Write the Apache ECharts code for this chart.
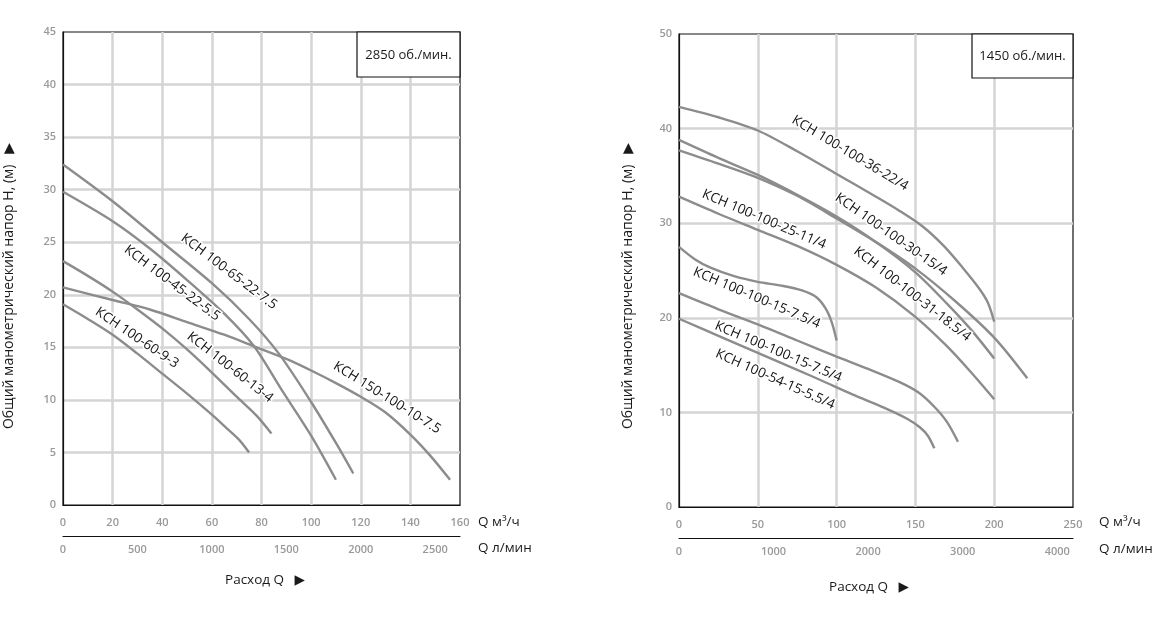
<!DOCTYPE html>
<html>
<head>
<meta charset="utf-8">
<title>КСН</title>
<script src="https://cdn.jsdelivr.net/npm/echarts@6/dist/echarts.min.js"></script>
<style>
html,body{margin:0;padding:0;background:#fff;}
#chart{width:1169px;height:636px;}
</style>
</head>
<body>
<div id="chart"></div>
<script>
// ticks
var leftFlowTicks = [0, 20, 40, 60, 80, 100, 120, 140, 160];
var leftLpmTicks = [0, 500, 1000, 1500, 2000, 2500];
var leftHeadTicks = [0, 5, 10, 15, 20, 25, 30, 35, 40, 45];
var rightFlowTicks = [0, 50, 100, 150, 200, 250];
var rightLpmTicks = [0, 1000, 2000, 3000, 4000];
var rightHeadTicks = [0, 10, 20, 30, 40, 50];

// 2850 об./мин. : [Q м3/ч, H м]
var k100_65_22_75 = [[0,32.4],[20,28.9],[40,25.0],[60,21.1],[75,17.7],[87,14.4],[100,9.8],[110,5.9],[117,3.0]];
var k100_45_22_55 = [[0,29.8],[20,27.0],[35,24.4],[50,21.4],[65,18.2],[77,15.1],[88,11.0],[100,6.6],[110,2.4]];
var k100_60_13_4 = [[0,23.2],[10,21.8],[20,20.3],[30,18.6],[40,16.8],[50,14.8],[60,12.6],[70,10.3],[78,8.5],[84,6.8]];
var k100_60_9_3 = [[0,19.1],[10,17.7],[20,16.2],[30,14.4],[40,12.5],[50,10.6],[60,8.6],[66,7.3],[71,6.2],[75,5.0]];
var k150_100_10_75 = [[0,20.7],[20,19.5],[35,18.6],[50,17.4],[65,16.2],[78,15.0],[90,13.9],[100,12.8],[110,11.6],[120,10.3],[130,8.8],[140,6.7],[148,4.7],[156,2.4]];

// 1450 об./мин.
var k100_100_36_22 = [[0,42.3],[25,41.2],[50,39.8],[75,37.6],[100,35.2],[125,32.8],[140,31.3],[155,29.6],[168,27.6],[180,25.3],[190,23.2],[196,21.6],[200,19.6]];
var k100_100_30_15 = [[0,38.8],[25,36.9],[50,35.1],[75,33.0],[100,30.7],[125,28.0],[150,24.8],[170,21.5],[185,18.8],[200,15.7]];
var k100_100_31_185 = [[0,37.7],[25,36.3],[50,34.8],[75,32.9],[100,30.5],[125,28.0],[150,25.2],[175,21.8],[200,17.9],[221,13.6]];
var k100_100_25_11 = [[0,32.8],[25,31.0],[50,29.3],[75,27.6],[100,25.6],[125,23.2],[150,20.1],[170,17.0],[185,14.3],[200,11.4]];
var k100_100_15_75a = [[0,27.5],[10,26.2],[20,25.3],[35,24.4],[50,23.8],[65,23.4],[78,22.9],[87,22.2],[93,21.0],[97,19.5],[100,17.6]];
var k100_100_15_75b = [[0,22.6],[25,20.9],[50,19.3],[75,17.6],[100,15.9],[120,14.6],[140,13.2],[152,12.1],[162,10.6],[170,9.0],[177,6.9]];
var k100_54_15_55 = [[0,19.9],[25,18.1],[50,16.3],[75,14.5],[90,13.4],[110,11.9],[130,10.5],[145,9.3],[153,8.4],[158,7.5],[162,6.2]];

// curve -> label (label spot in data units, angle in degrees)
var curves = [
  {g: 0, name: 'КСН 100-65-22-7.5', data: k100_65_22_75, at: [66.9, 22.2], rot: -37},
  {g: 0, name: 'КСН 100-45-22-5.5', data: k100_45_22_55, at: [44, 21.1], rot: -37},
  {g: 0, name: 'КСН 100-60-13-4', data: k100_60_13_4, at: [67.3, 13.1], rot: -38},
  {g: 0, name: 'КСН 100-60-9-3', data: k100_60_9_3, at: [29.8, 15.9], rot: -34},
  {g: 0, name: 'КСН 150-100-10-7.5', data: k150_100_10_75, at: [130.6, 10.2], rot: -32},
  {g: 1, name: 'КСН 100-100-36-22/4', data: k100_100_36_22, at: [108.5, 37.4], rot: -31},
  {g: 1, name: 'КСН 100-100-30-15/4', data: k100_100_30_15, at: [134.5, 28.8], rot: -35},
  {g: 1, name: 'КСН 100-100-31-18.5/4', data: k100_100_31_185, at: [148, 22.5], rot: -38},
  {g: 1, name: 'КСН 100-100-25-11/4', data: k100_100_25_11, at: [54, 30.4], rot: -23},
  {g: 1, name: 'КСН 100-100-15-7.5/4', data: k100_100_15_75a, at: [49.3, 22.1], rot: -23},
  {g: 1, name: 'КСН 100-100-15-7.5/4', data: k100_100_15_75b, at: [63, 16.4], rot: -23},
  {g: 1, name: 'КСН 100-54-15-5.5/4', data: k100_54_15_55, at: [61, 13.5], rot: -24}
];

var FONT = '"Open Sans", "DejaVu Sans", sans-serif';
var last = function (a) { return a[a.length - 1]; };

function flowAxis(grid, ticks) {
  return {
    type: 'value', gridIndex: grid, position: 'bottom',
    min: ticks[0], max: last(ticks), interval: ticks[1] - ticks[0],
    axisLine: {show: true, onZero: false, lineStyle: {color: '#111', width: 1.2}},
    axisTick: {show: false},
    axisLabel: {color: '#999', fontSize: 11, fontFamily: FONT, fontWeight: 600, margin: 12},
    splitLine: {show: true, showMinLine: false, showMaxLine: false, lineStyle: {color: '#d4d4d4', width: 2.5}}
  };
}
function lpmAxis(grid, ticks, flowMax) {
  return {
    type: 'value', gridIndex: grid, position: 'bottom', offset: 31,
    min: 0, max: flowMax * 1000 / 60, interval: ticks[1] - ticks[0],
    axisLine: {show: true, onZero: false, lineStyle: {color: '#111', width: 1.2}},
    axisTick: {show: false},
    axisLabel: {color: '#999', fontSize: 11, fontFamily: FONT, fontWeight: 600, margin: 8,
      formatter: function (v) { return ticks.indexOf(v) >= 0 ? String(v) : ''; }},
    splitLine: {show: false}
  };
}
function headAxis(grid, ticks) {
  return {
    type: 'value', gridIndex: grid,
    min: ticks[0], max: last(ticks), interval: ticks[1] - ticks[0],
    axisLine: {show: true, lineStyle: {color: '#111', width: 1.2}},
    axisTick: {show: false},
    axisLabel: {color: '#999', fontSize: 11, fontFamily: FONT, fontWeight: 600, margin: 7},
    splitLine: {show: true, showMinLine: false, showMaxLine: false, lineStyle: {color: '#d4d4d4', width: 2.5}}
  };
}

var series = curves.map(function (c) {
  return {
    type: 'line', name: c.name,
    xAxisIndex: c.g === 0 ? 0 : 2, yAxisIndex: c.g,
    data: c.data, smooth: 0.3,
    symbol: 'none', silent: true, z: 3,
    lineStyle: {color: '#8c8c8c', width: 2.4},
    markPoint: {
      silent: true, symbol: 'circle', symbolSize: 0,
      itemStyle: {color: 'rgba(0,0,0,0)'},
      label: {show: true, position: 'inside', rotate: c.rot, formatter: c.name,
        color: '#111', fontSize: 13.5, fontFamily: FONT,
        textBorderColor: '#fff', textBorderWidth: 3},
      data: [{coord: c.at}]
    }
  };
});

function txt(x, y, s, align, rot, size) {
  return {type: 'text', x: x, y: y, z: 100, rotation: rot || 0,
    style: {text: s, fill: '#1a1a1a', fontSize: size || 13.5, fontFamily: FONT,
      textAlign: align, align: align, textVerticalAlign: 'middle', verticalAlign: 'middle'}};
}
function rpmBox(x, y, w, h, s) {
  return [
    {type: 'rect', z: 100, shape: {x: x, y: y, width: w, height: h},
      style: {fill: '#fff', stroke: '#111', lineWidth: 1.2}},
    txt(x + w / 2, y + h / 2 + 0.5, s, 'center', 0, 13)
  ];
}

// the title is turned a quarter left, so ▶ shows as ▲
var yTitle = 'Общий манометрический напор Н, (м)   ▶';
var graphics = [].concat(
  rpmBox(357, 32, 103, 45, '2850 об./мин.'),
  rpmBox(972, 34, 101, 44, '1450 об./мин.'),
  [
    txt(9, 286, yTitle, 'center', Math.PI / 2, 14),
    txt(628, 286, yTitle, 'center', Math.PI / 2, 14),
    txt(478, 522, 'Q м³/ч', 'left'),
    txt(478, 548, 'Q л/мин', 'left'),
    txt(1099, 522, 'Q м³/ч', 'left'),
    txt(1099, 549, 'Q л/мин', 'left'),
    txt(265, 580, 'Расход Q   ▶', 'center'),
    txt(869, 587, 'Расход Q   ▶', 'center')
  ]
);

var chart = echarts.init(document.getElementById('chart'));
chart.setOption({
  animation: false,
  backgroundColor: '#fff',
  grid: [
    {left: 63, top: 32, width: 397, height: 473, show: true, borderColor: '#111', borderWidth: 1.2, backgroundColor: 'rgba(0,0,0,0)'},
    {left: 679, top: 34, width: 394, height: 473, show: true, borderColor: '#111', borderWidth: 1.2, backgroundColor: 'rgba(0,0,0,0)'}
  ],
  xAxis: [
    flowAxis(0, leftFlowTicks),
    lpmAxis(0, leftLpmTicks, last(leftFlowTicks)),
    flowAxis(1, rightFlowTicks),
    lpmAxis(1, rightLpmTicks, last(rightFlowTicks))
  ],
  yAxis: [headAxis(0, leftHeadTicks), headAxis(1, rightHeadTicks)],
  series: series,
  graphic: graphics
});
</script>
</body>
</html>
